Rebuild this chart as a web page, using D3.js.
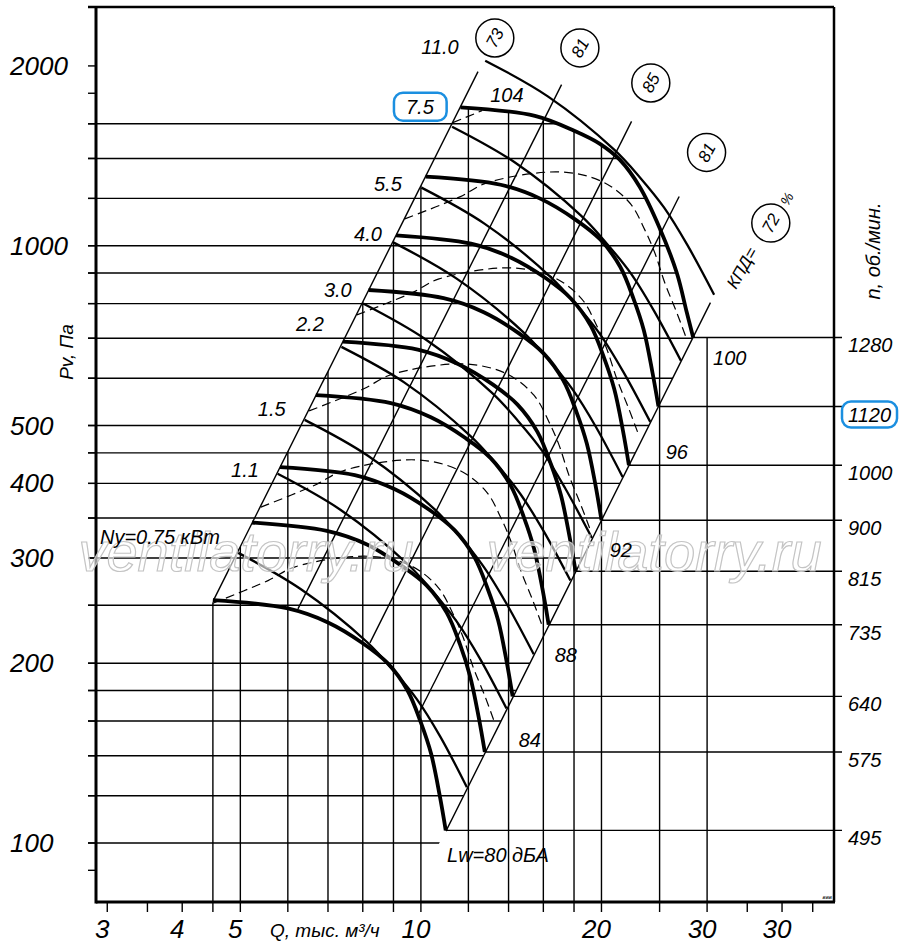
<!DOCTYPE html>
<html>
<head>
<meta charset="utf-8">
<script src="https://cdn.jsdelivr.net/npm/d3@7"></script>
<style>
  body { margin: 0; background: #fff; }
  text { font-family: "Liberation Sans", Arial, sans-serif; font-style: italic; fill: #000; }
</style>
</head>
<body>
<svg id="chart" width="900" height="950"></svg>
<script>
// Axis ticks and labels
var xTicks = [3, 3.5, 4, 4.5, 5, 6, 7, 8, 9, 10, 12, 14, 16, 18, 20, 25, 30, 35, 40, 45];
var xGrid = [4.5, 5, 6, 7, 8, 9, 10, 12, 14, 16, 18, 20, 25, 30];
var xLabelValues = [3, 4, 5, 10, 20, 30, 40];
var xLabelTexts = ['3', '4', '5', '10', '20', '30', '30'];
var yTicks = [90, 100, 120, 140, 160, 180, 200, 250, 300, 350, 400, 450, 500, 600, 700, 800, 900, 1000, 1200, 1400, 1600, 1800, 2000];
var yGrid = [100, 120, 140, 160, 180, 200, 250, 300, 350, 400, 450, 500, 600, 700, 800, 900, 1000, 1200, 1400, 1600];
var yLabelValues = [100, 200, 300, 400, 500, 1000, 2000];

// Pressure curves, one row per speed (rpm)
var rpm = [495, 575, 640, 735, 815, 900, 1000, 1120, 1280];
var rpmQ = [
  [4.50, 6.00, 7.00, 8.00, 8.80, 9.50, 10.00, 10.40, 10.75, 11.00],
  [5.23, 6.97, 8.13, 9.29, 10.22, 11.04, 11.62, 12.08, 12.49, 12.78],
  [5.82, 7.76, 9.05, 10.34, 11.38, 12.28, 12.93, 13.45, 13.90, 14.22],
  [6.68, 8.91, 10.39, 11.88, 13.07, 14.11, 14.85, 15.44, 15.96, 16.33],
  [7.41, 9.88, 11.53, 13.17, 14.49, 15.64, 16.47, 17.12, 17.70, 18.11],
  [8.18, 10.91, 12.73, 14.55, 16.00, 17.27, 18.18, 18.91, 19.55, 20.00],
  [9.09, 12.12, 14.14, 16.16, 17.78, 19.19, 20.20, 21.01, 21.72, 22.22],
  [10.18, 13.58, 15.84, 18.10, 19.91, 21.49, 22.63, 23.53, 24.32, 24.89],
  [11.64, 15.49, 18.05, 19.88, 21.47, 23.17, 25.00, 26.71, 27.76, 28.44]
];
var rpmP = [
  [255, 247, 234, 216, 200, 180, 159, 141, 120, 105],
  [344, 333, 316, 291, 270, 243, 215, 190, 162, 142],
  [426, 413, 391, 361, 334, 301, 266, 236, 201, 176],
  [562, 545, 516, 476, 441, 397, 351, 311, 265, 232],
  [691, 670, 634, 586, 542, 488, 431, 382, 325, 285],
  [843, 817, 774, 714, 661, 595, 526, 466, 397, 347],
  [1041, 1008, 955, 882, 816, 735, 649, 575, 490, 429],
  [1305, 1265, 1198, 1106, 1024, 922, 814, 722, 614, 538],
  [1705, 1650, 1556, 1481, 1392, 1254, 1071, 900, 772, 702]
];

// Motor power lines (kW)
var kwTexts = ['Ny=0.75 кВт', '1.1', '1.5', '2.2', '3.0', '4.0', '5.5', '7.5', '11.0'];
var kwLabelQ = [2.917, 5.09, 5.64, 6.53, 7.27, 8.16, 8.81, 9.96, 10.76];
var kwLabelP = [325.5, 422, 532, 740, 844, 1047, 1270, 1709, 2154];
var powerQ = [
  [4.96, 6.31, 8.13, 8.98, 9.85, 10.76, 11.93],
  [5.77, 7.35, 9.47, 10.46, 11.47, 12.53, 13.89],
  [6.40, 8.16, 10.51, 11.61, 12.73, 13.91, 15.42],
  [7.37, 9.39, 12.10, 13.36, 14.65, 16.01, 17.75],
  [8.01, 10.20, 13.14, 14.52, 15.92, 17.39, 19.28],
  [9.01, 11.47, 14.78, 16.33, 17.91, 19.56, 21.69],
  [10.02, 12.76, 16.44, 18.15, 19.91, 21.75, 24.12],
  [11.27, 14.35, 18.49, 20.42, 22.40, 24.47, 27.13],
  [12.80, 16.30, 21.00, 23.20, 25.44, 27.79, 30.82]
];
var powerP = [
  [306, 266, 217, 195, 174, 151, 124],
  [415, 361, 294, 264, 235, 204, 168],
  [511, 445, 363, 326, 290, 251, 207],
  [677, 590, 480, 431, 384, 333, 275],
  [800, 696, 567, 509, 454, 393, 324],
  [1012, 881, 718, 644, 574, 498, 410],
  [1251, 1089, 887, 797, 710, 615, 507],
  [1582, 1378, 1123, 1008, 898, 778, 642],
  [2041, 1777, 1448, 1300, 1158, 1004, 828]
];

// Dashed curves
var dashQ = [
  [4.50, 5.56, 6.17, 8.17, 9.63, 10.68, 11.31, 11.76, 12.22, 12.79, 13.30],
  [5.41, 6.68, 7.42, 9.82, 11.57, 12.84, 13.60, 14.13, 14.69, 15.38, 15.98],
  [6.51, 8.03, 8.91, 11.80, 13.91, 15.43, 16.35, 16.99, 17.65, 18.48, 19.21],
  [7.82, 9.66, 10.72, 14.18, 16.72, 18.55, 19.65, 20.42, 21.22, 22.22, 23.09],
  [9.40, 11.61, 12.88, 17.05, 20.10, 22.30, 23.62, 24.55, 25.51, 26.71, 27.76],
  [11.30, 12.64]
];
var dashP = [
  [252, 275, 290, 302, 291, 268, 242, 221, 197, 176, 158],
  [365, 398, 420, 438, 421, 388, 350, 320, 285, 254, 229],
  [529, 576, 608, 634, 610, 562, 507, 464, 413, 368, 332],
  [766, 834, 880, 918, 883, 814, 734, 671, 598, 533, 481],
  [1109, 1207, 1274, 1329, 1279, 1179, 1063, 972, 866, 772, 696],
  [1607, 1683]
];

// Efficiency lines (КПД, %)
var effTexts = ['73', '81', '85', '81', '72'];
var effQ = [[4.507, 12.45], [6.237, 17.16], [8.222, 22.45], [9.886, 26.95], [11.01, 30.39]];
var effP = [[254.6, 1956], [246.6, 1861], [216.3, 1615], [163.8, 1209], [104.7, 802.9]];
var effLabelQ = [13.28, 18.41, 24.17, 29.94, 38.31];
var effLabelP = [2228, 2144, 1873, 1433, 1091];

// Noise levels (Lw, дБА)
var lwTexts = ['Lw=80 дБА', '84', '88', '92', '96', '100', '104'];
var lwQ = [13.44, 15.19, 17.44, 21.54, 26.71, 32.73, 13.91];
var lwP = [95.5, 148.8, 206.4, 309.6, 451.9, 649.4, 1790];

var svg = d3.select('#chart');
var plotLeft = 96, plotRight = 834, plotTop = 7, plotBottom = 902;

var x = d3.scaleLog().domain([2.873, 48.83]).range([plotLeft, plotRight]);
var y = d3.scaleLog().domain([79.65, 2510]).range([plotBottom, plotTop]);

var smooth = d3.line()
    .x(function(d) { return x(d[0]); })
    .y(function(d) { return y(d[1]); })
    .curve(d3.curveCatmullRom.alpha(0.5));
var straight = d3.line()
    .x(function(d) { return x(d[0]); })
    .y(function(d) { return y(d[1]); });

function zip(qs, ps) { return qs.map(function(q, i) { return [q, ps[i]]; }); }

// Clip regions for the grid: bounded by the top speed curve and the envelope lines.
var n = rpm.length - 1;
var topPts = zip(rpmQ[n], rpmP[n]);
var last = topPts.length - 1;
var tail = 'L' + smooth(topPts).slice(1);
var endA = [x(rpmQ[0][rpmQ[0].length - 1]), y(rpmP[0][rpmP[0].length - 1])];
var endB = [x(topPts[last][0]), y(topPts[last][1])];
var yLow = plotBottom + 10;
var xEdge = endA[0] + (endB[0] - endA[0]) * (yLow - endA[1]) / (endB[1] - endA[1]);
var startT = [x(topPts[0][0]), y(topPts[0][1])];
var startL = [x(effQ[0][0]), y(effP[0][0])];
var xL = 150;
var yL = startT[1] + (startL[1] - startT[1]) * (xL - startT[0]) / (startL[0] - startT[0]);

var defs = svg.append('defs');
defs.append('clipPath').attr('id', 'hclip').append('path')
    .attr('d', 'M80,' + startT[1] + tail + 'L' + xEdge + ',' + yLow + 'L80,' + yLow + 'Z');
defs.append('clipPath').attr('id', 'vclip').append('path')
    .attr('d', 'M' + xL + ',' + yLow + 'L' + xL + ',' + yL + 'L' + startT[0] + ',' + startT[1] +
      tail + 'L845,' + endB[1] + 'L845,' + yLow + 'Z');

// Grid
svg.append('g').attr('clip-path', 'url(#hclip)')
  .selectAll('line').data(yGrid).enter().append('line')
    .attr('x1', 88).attr('x2', 845)
    .attr('y1', function(d) { return y(d); }).attr('y2', function(d) { return y(d); })
    .style('stroke', '#000').style('stroke-width', 1.4);
svg.append('g').attr('clip-path', 'url(#vclip)')
  .selectAll('line').data(xGrid).enter().append('line')
    .attr('x1', function(d) { return x(d); }).attr('x2', function(d) { return x(d); })
    .attr('y1', plotBottom).attr('y2', 0)
    .style('stroke', '#000').style('stroke-width', 1.4);

// Speed lines to the right axis
svg.append('g').selectAll('line').data(rpm).enter().append('line')
    .attr('x1', function(d, i) { return x(rpmQ[i][rpmQ[i].length - 1]); })
    .attr('x2', plotRight + 8)
    .attr('y1', function(d, i) { return y(rpmP[i][rpmP[i].length - 1]); })
    .attr('y2', function(d, i) { return y(rpmP[i][rpmP[i].length - 1]); })
    .style('stroke', '#000').style('stroke-width', 1.4);

// Efficiency lines
svg.append('g').selectAll('path').data(effQ).enter().append('path')
    .attr('d', function(d, i) { return straight(zip(d, effP[i])); })
    .style('fill', 'none').style('stroke', '#000').style('stroke-width', 1.4);

// Dashed curves
svg.append('g').selectAll('path').data(dashQ).enter().append('path')
    .attr('d', function(d, i) { return smooth(zip(d, dashP[i])); })
    .style('fill', 'none').style('stroke', '#000').style('stroke-width', 1.2)
    .style('stroke-dasharray', '9,5');

// Power lines
svg.append('g').selectAll('path').data(powerQ).enter().append('path')
    .attr('d', function(d, i) { return smooth(zip(d, powerP[i])); })
    .style('fill', 'none').style('stroke', '#000').style('stroke-width', 2.3);

// Pressure curves
svg.append('g').selectAll('path').data(rpmQ).enter().append('path')
    .attr('d', function(d, i) { return smooth(zip(d, rpmP[i])); })
    .style('fill', 'none').style('stroke', '#000').style('stroke-width', 3.8);

// Frame and ticks
var frame = svg.append('g').style('stroke', '#000');
frame.append('line').attr('x1', 88).attr('x2', plotRight).attr('y1', plotTop).attr('y2', plotTop).style('stroke-width', 2.5);
frame.append('line').attr('x1', plotRight).attr('x2', plotRight).attr('y1', plotTop).attr('y2', plotBottom).style('stroke-width', 2.5);
frame.append('line').attr('x1', plotLeft).attr('x2', plotLeft).attr('y1', plotTop).attr('y2', plotBottom + 1.5).style('stroke-width', 3);
frame.append('line').attr('x1', plotLeft).attr('x2', plotRight + 1).attr('y1', plotBottom).attr('y2', plotBottom).style('stroke-width', 3);
frame.selectAll('.ytick').data(yTicks).enter().append('line')
    .attr('class', 'ytick')
    .attr('x1', 88).attr('x2', plotLeft)
    .attr('y1', function(d) { return y(d); }).attr('y2', function(d) { return y(d); })
    .style('stroke-width', 1.4);
frame.selectAll('.xtick').data(xTicks).enter().append('line')
    .attr('class', 'xtick')
    .attr('x1', function(d) { return x(d); }).attr('x2', function(d) { return x(d); })
    .attr('y1', plotBottom).attr('y2', plotBottom + 10)
    .style('stroke-width', 1.4);

// Watermark
[246, 654].forEach(function(cx) {
  svg.append('text')
      .attr('x', cx).attr('y', 571)
      .attr('text-anchor', 'middle')
      .style('font-size', '56px')
      .style('fill', '#fff').style('fill-opacity', 0.6)
      .style('stroke', '#c4c4c4').style('stroke-width', 1.2)
      .text('ventilatorry.ru');
});

// Axis labels
svg.selectAll('.ylabel').data(yLabelValues).enter().append('text')
    .attr('class', 'ylabel')
    .attr('x', 10).attr('y', function(d) { return y(d); }).attr('dy', '0.35em')
    .style('font-size', '26px')
    .text(function(d) { return d; });
svg.selectAll('.xlabel').data(xLabelValues).enter().append('text')
    .attr('class', 'xlabel')
    .attr('x', function(d) { return x(d) - 5; }).attr('y', 938)
    .attr('text-anchor', 'middle')
    .style('font-size', '26px')
    .text(function(d, i) { return xLabelTexts[i]; });

svg.append('text')
    .attr('transform', 'translate(73,352) rotate(-90)')
    .attr('text-anchor', 'middle')
    .style('font-size', '19px')
    .text('Pv, Па');
svg.append('text')
    .attr('transform', 'translate(880,251) rotate(-90)')
    .attr('text-anchor', 'middle')
    .style('font-size', '20px')
    .text('n,  об./мин.');
svg.append('text')
    .attr('x', 270).attr('y', 937)
    .style('font-size', '19px')
    .text('Q, тыс. м³/ч');

// Speed labels
var rpmLabels = svg.selectAll('.rpm').data(rpm).enter().append('text')
    .attr('class', 'rpm')
    .attr('x', plotRight + 14)
    .attr('y', function(d, i) { return y(rpmP[i][rpmP[i].length - 1]) + 8; })
    .attr('dy', '0.35em')
    .style('font-size', '20px')
    .text(function(d) { return d; });

// Motor power labels
var kwLabels = svg.selectAll('.kw').data(kwTexts).enter().append('text')
    .attr('class', 'kw')
    .attr('x', function(d, i) { return x(kwLabelQ[i]); })
    .attr('y', function(d, i) { return y(kwLabelP[i]); })
    .attr('dy', '0.35em')
    .attr('text-anchor', function(d, i) { return i === 0 ? 'start' : 'middle'; })
    .style('font-size', '20px')
    .text(function(d) { return d; });

// Noise labels
svg.selectAll('.lw').data(lwTexts).enter().append('text')
    .attr('class', 'lw')
    .attr('x', function(d, i) { return x(lwQ[i]); })
    .attr('y', function(d, i) { return y(lwP[i]); })
    .attr('dy', '0.35em')
    .attr('text-anchor', 'middle')
    .style('font-size', '20px')
    .text(function(d) { return d; });

// Efficiency circles
var eff = svg.selectAll('.eff').data(effTexts).enter().append('g')
    .attr('class', 'eff')
    .attr('transform', function(d, i) { return 'translate(' + x(effLabelQ[i]) + ',' + y(effLabelP[i]) + ')'; });
eff.append('circle').attr('r', 19)
    .style('fill', '#fff').style('stroke', '#000').style('stroke-width', 1.5);
eff.append('text')
    .attr('transform', 'rotate(-62)')
    .attr('text-anchor', 'middle').attr('dy', '0.35em')
    .style('font-size', '17px')
    .text(function(d) { return d; });
svg.append('text')
    .attr('transform', 'translate(' + x(34.28) + ',' + y(917.9) + ') rotate(-60)')
    .attr('text-anchor', 'middle').attr('dy', '0.35em')
    .style('font-size', '17px')
    .text('КПД=');
svg.append('text')
    .attr('transform', 'translate(' + x(40.74) + ',' + y(1198) + ') rotate(-60)')
    .attr('text-anchor', 'middle').attr('dy', '0.35em')
    .style('font-size', '14px')
    .text('%');
svg.append('text')
    .attr('x', plotRight - 2).attr('y', plotBottom - 3)
    .attr('text-anchor', 'end')
    .style('font-size', '6px')
    .text('ввв');

// Blue highlight boxes
function highlight(node, padX, padY) {
  var b = node.getBBox();
  svg.append('rect')
      .attr('x', b.x - padX).attr('y', b.y - padY)
      .attr('width', b.width + 2 * padX).attr('height', b.height + 2 * padY)
      .attr('rx', 9).attr('ry', 9)
      .style('fill', 'none').style('stroke', '#1b8fe0').style('stroke-width', 2.5);
}
highlight(kwLabels.filter(function(d) { return d === '7.5'; }).node(), 12, 3);
highlight(rpmLabels.filter(function(d) { return d === 1120; }).node(), 6, 2);
</script>
</body>
</html>
